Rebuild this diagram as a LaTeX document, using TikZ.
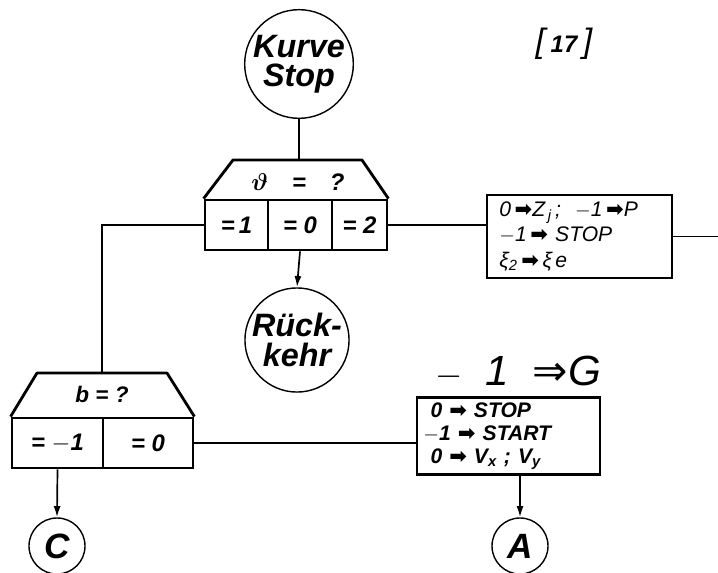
\documentclass[tikz,border=0pt]{standalone}
\usepackage{amsmath}
\usepackage{fontspec}
\setsansfont{Liberation Sans}
\newfontfamily\symfont{DejaVu Sans}
\usetikzlibrary{arrows.meta}
\newcommand\pfeil{{\symfont\bfseries ➡}}
\begin{document}
\begin{tikzpicture}[x=0.025cm,y=-0.025cm,
  font=\sffamily\itshape,
  endpt/.style={draw, circle, line width=1pt, inner sep=0pt, align=center,
    font=\sffamily\bfseries\itshape\fontsize{23}{21}\selectfont},
  connpt/.style={draw, circle, line width=1pt, inner sep=0pt, minimum size=1.4cm,
    font=\sffamily\bfseries\itshape\fontsize{25}{25}\selectfont},
  cell/.style={draw, rectangle, line width=2pt, inner sep=0pt, minimum height=1.25cm,
    font=\sffamily\bfseries\itshape\fontsize{17}{17}\selectfont},
  opbox/.style={draw, rectangle, line width=2pt, align=left},
  wire/.style={line width=1.2pt},
  arr/.style={wire, -{Latex[length=8pt,width=5pt]}}]
\useasboundingbox (0,0) rectangle (718,573);

% start
\node[endpt, minimum size=2.3cm] (kurve) at (299,64) {Kurve\\Stop};
\node at (564,44) {\fontsize{24}{24}\selectfont [\,{\fontsize{17}{17}\selectfont\bfseries 17}\,]};

% decision theta
\node[cell, minimum width=1.575cm] (th1) at (236.5,225) {=\,1};
\node[cell, minimum width=1.6cm] (th0) at (300,225) {= 0};
\node[cell, minimum width=1.375cm] (th2) at (359.5,225) {= 2};
\draw[line width=2pt, line join=round] (th1.north west) -- (233,160) -- (362,160) -- (th2.north east);
\node[font=\sffamily\bfseries\itshape\fontsize{17}{17}\selectfont] (thq) at (298,182) {$\boldsymbol{\vartheta}$\quad =\quad ?};
\coordinate (thtop) at (299,160);

\node[endpt, minimum size=2.2cm] (rueck) at (297,340) {Rück-\\kehr};

\node[opbox, minimum width=4.625cm, minimum height=2.075cm, inner xsep=0.3cm, text width=4cm,
  font=\sffamily\itshape\fontsize{15}{18}\selectfont] (zbox) at (579.5,236.5)
  {0\,\pfeil Z\textsubscript{\,j}\,;\ \ $-$1\,\pfeil P\\$-$1\,\pfeil\ STOP\\ξ\textsubscript{2}\,\pfeil\,ξ\,e};
\coordinate (exitR) at (718,0);

% decision b
\node[cell, minimum width=2.275cm] (bm1) at (57.5,443) {= $-$1};
\node[cell, minimum width=2.25cm] (b0) at (148,443) {= 0};
\draw[line width=2pt, line join=round] (bm1.north west) -- (37,373) -- (167,373) -- (b0.north east);
\node[font=\sffamily\bfseries\itshape\fontsize{16}{16}\selectfont] (bq) at (102,394) {b = ?};
\coordinate (btop) at (102,373);

\node[font=\sffamily\itshape\fontsize{30}{30}\selectfont] (glab) at (518,372) {$-$\ \ 1\ \ {\symfont ⇒}G};
\node[opbox, minimum width=4.575cm, minimum height=1.85cm, inner xsep=0.15cm, text width=4.25cm,
  font=\sffamily\bfseries\itshape\fontsize{15}{16.5}\selectfont] (gbox) at (508.5,436)
  {\ 0\ \pfeil\ STOP\\$-$1\ \pfeil\ START\\\ 0\ \pfeil\ V\textsubscript{x}\ ;\ V\textsubscript{y}};

\node[connpt] (cC) at (57,546) {C};
\node[connpt] (cA) at (520,546) {A};

% connectors
\draw[wire] (kurve) -- (thtop);
\draw[arr] (th0.south) -- (rueck.north);
\draw[wire] (th1.west) -| (btop);
\draw[wire] (th2.east) -- (th2.east -| zbox.west);
\draw[wire] (zbox.east) -- (zbox.east -| exitR);
\draw[wire] (b0.east) -- (b0.east -| gbox.west);
\draw[arr] (bm1.south) -- (cC.north);
\draw[arr] (gbox.south -| cA.north) -- (cA.north);
\end{tikzpicture}
\end{document}
